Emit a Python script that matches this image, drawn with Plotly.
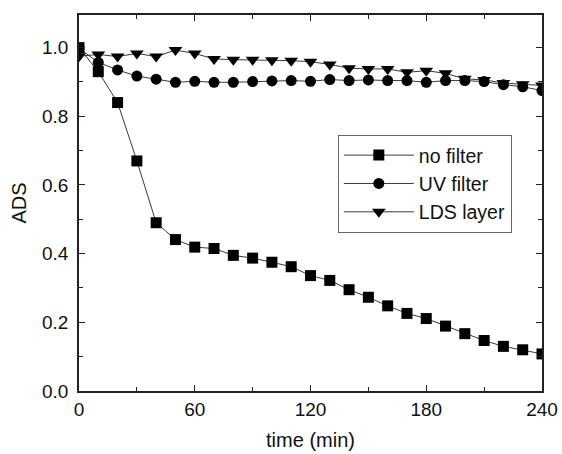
import plotly.graph_objects as go

time = [0, 10, 20, 30, 40, 50, 60, 70, 80, 90, 100, 110, 120, 130, 140, 150, 160, 170, 180, 190, 200, 210, 220, 230, 240]
no_filter = [1.0, 0.93, 0.84, 0.67, 0.49, 0.441, 0.419, 0.415, 0.395, 0.387, 0.375, 0.362, 0.336, 0.322, 0.295, 0.273, 0.248, 0.226, 0.211, 0.189, 0.167, 0.147, 0.130, 0.120, 0.108]
uv_filter = [0.998, 0.957, 0.935, 0.917, 0.908, 0.899, 0.902, 0.899, 0.899, 0.901, 0.903, 0.904, 0.902, 0.907, 0.904, 0.906, 0.904, 0.904, 0.899, 0.904, 0.904, 0.901, 0.892, 0.886, 0.875]
lds_layer = [0.975, 0.980, 0.974, 0.983, 0.974, 0.993, 0.983, 0.967, 0.965, 0.965, 0.963, 0.962, 0.959, 0.951, 0.940, 0.938, 0.938, 0.928, 0.933, 0.925, 0.909, 0.906, 0.897, 0.893, 0.890]

x_ticks = [0, 60, 120, 180, 240]
y_ticks = [0.0, 0.2, 0.4, 0.6, 0.8, 1.0]

FONT = "Liberation Sans, Arial, sans-serif"

fig = go.Figure()
series = [
    ("no filter", no_filter, "square", 11),
    ("UV filter", uv_filter, "circle", 11),
    ("LDS layer", lds_layer, "triangle-down", 12),
]
for name, vals, sym, sz in series:
    fig.add_trace(go.Scatter(
        x=time, y=vals, name=name, mode="lines+markers",
        line=dict(color="#222222", width=0.9),
        marker=dict(symbol=sym, size=sz, color="black", line=dict(width=0)),
    ))

axis_common = dict(
    showline=True, linecolor="#222222", linewidth=1.5, mirror="ticks",
    ticks="inside", ticklen=6, tickwidth=1.2, tickcolor="#222222",
    showgrid=False, zeroline=False, automargin=False,
    tickfont=dict(family=FONT, size=19, color="#111111"),
    title_font=dict(family=FONT, size=20, color="#111111"),
)

fig.update_xaxes(
    range=[0, 240], tickvals=x_ticks, title_text="time (min)", title_standoff=14,
    ticklabelstandoff=0,
    minor=dict(ticks="inside", dtick=30, ticklen=4, tickwidth=1, tickcolor="#222222"),
    **axis_common,
)
fig.update_yaxes(
    range=[0, 1.095], tickvals=y_ticks, tickformat=".1f", title_text="ADS", title_standoff=10,
    ticklabelstandoff=5,
    minor=dict(ticks="inside", dtick=0.1, ticklen=4, tickwidth=1, tickcolor="#222222"),
    **axis_common,
)

fig.update_layout(
    width=562, height=454,
    margin=dict(l=79, r=20, t=15, b=63),
    paper_bgcolor="white", plot_bgcolor="white",
    font=dict(family=FONT, size=19, color="#111111"),
    legend=dict(
        x=0.559, y=0.681, xanchor="left", yanchor="top",
        bgcolor="white", bordercolor="#666666", borderwidth=1,
        font=dict(family=FONT, size=19.5, color="#111111"),
        itemwidth=70,
    ),
)

# Remove the default page margin so the 562x454 figure fills the window exactly.
fig.write_html(
    "out.html",
    config={"displayModeBar": False},
    post_script="document.body.style.margin='0';document.body.style.overflow='hidden';",
)
